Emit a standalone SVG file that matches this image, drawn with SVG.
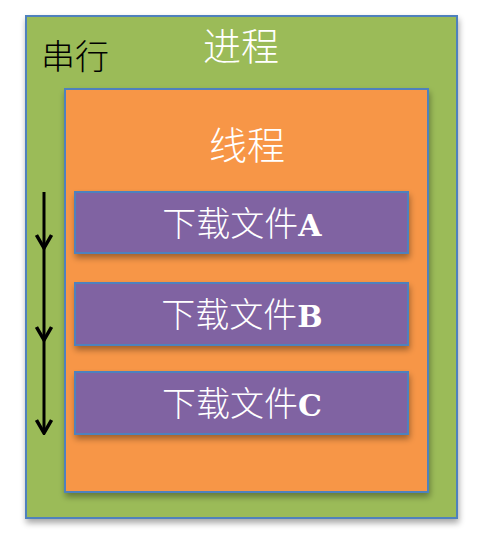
<svg xmlns="http://www.w3.org/2000/svg" width="480" height="538" viewBox="0 0 480 538">
<defs>
<filter id="sh" x="-10%" y="-10%" width="120%" height="130%">
<feGaussianBlur in="SourceAlpha" stdDeviation="3"/>
<feOffset dx="1" dy="4" result="b"/>
<feComponentTransfer><feFuncA type="linear" slope="0.35"/></feComponentTransfer>
<feMerge><feMergeNode/><feMergeNode in="SourceGraphic"/></feMerge>
</filter>
<marker id="ah" viewBox="0 0 16 18" refX="14" refY="9" markerWidth="16" markerHeight="18" markerUnits="userSpaceOnUse" orient="auto">
<polyline points="1,1.5 14,9 1,16.5" fill="none" stroke="#000" stroke-width="3.5" stroke-linejoin="miter"/>
</marker>
<style>
.box{stroke:#4F81BD;stroke-width:2}
.cn{font-family:"Noto Sans CJK SC","Noto Sans CJK JP",sans-serif;font-weight:300}
.w{fill:#fff}
.lab{font-size:34px}
.let{font-family:"DejaVu Serif","Liberation Serif",serif;font-weight:bold;font-size:30px}
</style>
</defs>
<g id="process">
<rect class="box" x="26" y="16" width="431" height="502" fill="#9BBB59" filter="url(#sh)"/>
<text class="cn w" x="241" y="60" font-size="38" text-anchor="middle">进程</text>
<text class="cn" x="41" y="69" font-size="34" fill="#000">串行</text>
</g>
<g id="thread">
<rect class="box" x="65" y="89" width="363" height="403" fill="#F79646" filter="url(#sh)"/>
<text class="cn w" x="247" y="159" font-size="38" text-anchor="middle">线程</text>
</g>
<g id="fileA">
<rect class="box" x="75" y="192" width="333" height="61" fill="#8064A2" filter="url(#sh)"/>
<text class="cn w lab" x="242" y="236" text-anchor="middle">下载文件<tspan class="let">A</tspan></text>
</g>
<g id="fileB">
<rect class="box" x="75" y="283" width="333" height="62" fill="#8064A2" filter="url(#sh)"/>
<text class="cn w lab" x="242" y="327" text-anchor="middle">下载文件<tspan class="let">B</tspan></text>
</g>
<g id="fileC">
<rect class="box" x="75" y="372" width="333" height="62" fill="#8064A2" filter="url(#sh)"/>
<text class="cn w lab" x="242" y="416" text-anchor="middle">下载文件<tspan class="let">C</tspan></text>
</g>
<g id="connectors" stroke="#000" stroke-width="3" fill="none">
<line x1="44" y1="192" x2="44" y2="248" marker-end="url(#ah)"/>
<line x1="44" y1="248" x2="44" y2="340" marker-end="url(#ah)"/>
<line x1="44" y1="340" x2="44" y2="433" marker-end="url(#ah)"/>
</g>
</svg>
